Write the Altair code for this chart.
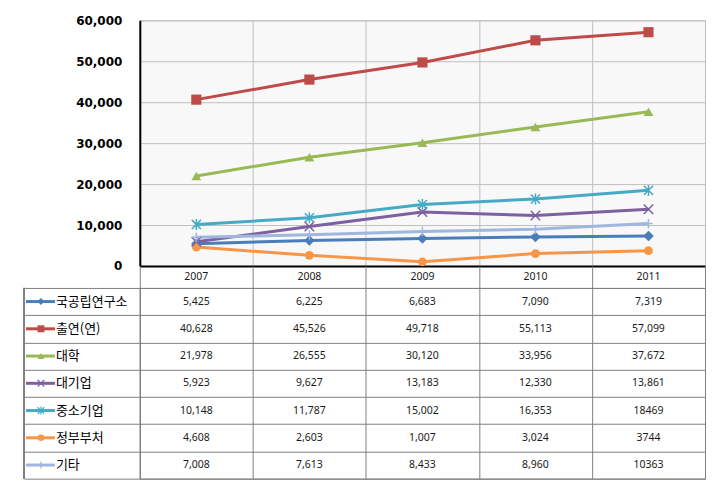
import altair as alt
import pandas as pd

years = ["2007", "2008", "2009", "2010", "2011"]
series = ["국공립연구소", "출연(연)", "대학", "대기업", "중소기업", "정부부처", "기타"]

v_public = [5425, 6225, 6683, 7090, 7319]
v_gri = [40628, 45526, 49718, 55113, 57099]
v_univ = [21978, 26555, 30120, 33956, 37672]
v_large = [5923, 9627, 13183, 12330, 13861]
v_sme = [10148, 11787, 15002, 16353, 18469]
v_gov = [4608, 2603, 1007, 3024, 3744]
v_etc = [7008, 7613, 8433, 8960, 10363]

t_public = ["5,425", "6,225", "6,683", "7,090", "7,319"]
t_gri = ["40,628", "45,526", "49,718", "55,113", "57,099"]
t_univ = ["21,978", "26,555", "30,120", "33,956", "37,672"]
t_large = ["5,923", "9,627", "13,183", "12,330", "13,861"]
t_sme = ["10,148", "11,787", "15,002", "16,353", "18469"]
t_gov = ["4,608", "2,603", "1,007", "3,024", "3744"]
t_etc = ["7,008", "7,613", "8,433", "8,960", "10363"]

y_ticks = [0, 10000, 20000, 30000, 40000, 50000, 60000]

colors = ["#4a7ebb", "#be4b48", "#98b954", "#7d60a0", "#46aac5", "#f79646", "#9fb6de"]
shapes = ["diamond", "square", "triangle-up",
          "M-1,-1L1,1M-1,1L1,-1",
          "M-1,-1L1,1M-1,1L1,-1M0,-1.2L0,1.2",
          "circle",
          "M0,-1.1L0,1.1M-1,0L1,0"]
sizes_chart = [110, 70, 160, 120, 140, 125, 130]
sizes_legend = [50, 40, 70, 70, 80, 70, 80]
filled_set = ["국공립연구소", "출연(연)", "대학", "정부부처"]

all_values = [v_public, v_gri, v_univ, v_large, v_sme, v_gov, v_etc]
all_texts = [t_public, t_gri, t_univ, t_large, t_sme, t_gov, t_etc]

rows = []
for s, vals, txts in zip(series, all_values, all_texts):
    for yr, v, t in zip(years, vals, txts):
        rows.append({"series": s, "year": yr, "value": v, "text": t})
df = pd.DataFrame(rows)
df_series = pd.DataFrame({"series": series})
df_years = pd.DataFrame({"year": years})

W = 566
H_PLOT = 246
H_HEAD = 22
H_TABLE = 191
GRID = "#bfbfbf"
TLINE = "#808080"

color_scale = alt.Scale(domain=series, range=colors)
shape_scale = alt.Scale(domain=series, range=shapes)

x_band = alt.Scale(type="band", domain=years, paddingInner=0, paddingOuter=0)

# ---------------- line chart ----------------
x_line = alt.X("year:O", scale=x_band, bandPosition=0.5,
               axis=alt.Axis(title=None, labels=False, ticks=False,
                             domainColor="black", domainWidth=2,
                             grid=True, gridColor=GRID, tickBand="extent"))
y_line = alt.Y("value:Q", scale=alt.Scale(domain=[0, 60000], nice=False),
               axis=alt.Axis(title=None, values=y_ticks, format=",.0f",
                             labelFont="DejaVu Sans", labelFontWeight="bold",
                             labelFontSize=12, labelColor="black",
                             ticks=False, labelPadding=18,
                             domainColor="black", domainWidth=2,
                             grid=True, gridColor=GRID))

base = alt.Chart(df)
lines = base.mark_line(strokeWidth=3).encode(
    x=x_line, y=y_line,
    color=alt.Color("series:N", scale=color_scale, legend=None),
    detail="series:N",
)
pts_filled = base.transform_filter(
    alt.FieldOneOfPredicate(field="series", oneOf=filled_set)
).mark_point(filled=True, opacity=1).encode(
    x=x_line, y=y_line,
    color=alt.Color("series:N", scale=color_scale, legend=None),
    shape=alt.Shape("series:N", scale=shape_scale, legend=None),
    size=alt.Size("series:N", scale=alt.Scale(domain=series, range=sizes_chart), legend=None),
)
pts_stroked = base.transform_filter(
    {"not": alt.FieldOneOfPredicate(field="series", oneOf=filled_set)}
).mark_point(filled=False, opacity=1, strokeWidth=1.5).encode(
    x=x_line, y=y_line,
    color=alt.Color("series:N", scale=color_scale, legend=None),
    shape=alt.Shape("series:N", scale=shape_scale, legend=None),
    size=alt.Size("series:N", scale=alt.Scale(domain=series, range=sizes_chart), legend=None),
)
line_chart = alt.layer(lines, pts_filled, pts_stroked).properties(
    width=W, height=H_PLOT,
    view=alt.ViewBackground(fill="#f8f8f8", stroke=GRID),
)

# ---------------- header row ----------------
header = alt.Chart(df_years).mark_text(
    font="Noto Sans", fontSize=10.5, color="#1a1a1a"
).encode(
    x=alt.X("year:O", scale=x_band, bandPosition=0.5,
            axis=alt.Axis(title=None, labels=False, ticks=False, domain=False,
                          grid=True, gridColor=TLINE, tickBand="extent")),
    y=alt.value(11),
    text="year:N",
).properties(width=W, height=H_HEAD, view=alt.ViewBackground(stroke=None))

# ---------------- table ----------------
y_band = alt.Scale(type="band", domain=series, paddingInner=0, paddingOuter=0)
y_tab = alt.Y("series:N", scale=y_band, bandPosition=0.5,
              axis=alt.Axis(title=None, labels=False, tickBand="extent",
                            ticks=True, tickSize=116, tickColor=TLINE,
                            domainColor=TLINE, grid=True, gridColor=TLINE))
x_tab = alt.X("year:O", scale=x_band, bandPosition=0.5,
              axis=alt.Axis(title=None, labels=False, ticks=False, domain=False,
                            grid=True, gridColor=TLINE, tickBand="extent"))

cells = alt.Chart(df).mark_text(font="Noto Sans", fontSize=10.5, color="#1a1a1a").encode(
    x=x_tab, y=y_tab, text="text:N"
)
names = alt.Chart(df_series).mark_text(
    font="Noto Sans CJK KR", fontSize=13, color="black", align="left"
).encode(x=alt.value(-84), y=y_tab, text="series:N")
leg_lines = alt.Chart(df_series).mark_rule(strokeWidth=3).encode(
    x=alt.value(-114), x2=alt.value(-85), y=y_tab,
    color=alt.Color("series:N", scale=color_scale, legend=None),
)
leg_filled = alt.Chart(df_series).transform_filter(
    alt.FieldOneOfPredicate(field="series", oneOf=filled_set)
).mark_point(filled=True, opacity=1).encode(
    x=alt.value(-99), y=y_tab,
    color=alt.Color("series:N", scale=color_scale, legend=None),
    shape=alt.Shape("series:N", scale=shape_scale, legend=None),
    size=alt.Size("series:N", scale=alt.Scale(domain=series, range=sizes_legend), legend=None),
)
leg_stroked = alt.Chart(df_series).transform_filter(
    {"not": alt.FieldOneOfPredicate(field="series", oneOf=filled_set)}
).mark_point(filled=False, opacity=1, strokeWidth=1.2).encode(
    x=alt.value(-99), y=y_tab,
    color=alt.Color("series:N", scale=color_scale, legend=None),
    shape=alt.Shape("series:N", scale=shape_scale, legend=None),
    size=alt.Size("series:N", scale=alt.Scale(domain=series, range=sizes_legend), legend=None),
)
left_border = alt.Chart(df_series).mark_rule(color=TLINE, strokeWidth=1).encode(
    x=alt.value(-116), y=alt.value(0), y2=alt.value(H_TABLE)
)
table = alt.layer(left_border, cells, names, leg_lines, leg_filled, leg_stroked).properties(
    width=W, height=H_TABLE, view=alt.ViewBackground(stroke=TLINE)
)

chart = alt.vconcat(line_chart, header, table, spacing=0, bounds="flush").resolve_scale(
    size="independent"
).properties(
    padding={"left": 15, "top": 5, "right": 5, "bottom": 5}
)

chart.save("out.html", embed_options={"renderer": "svg", "actions": False})
